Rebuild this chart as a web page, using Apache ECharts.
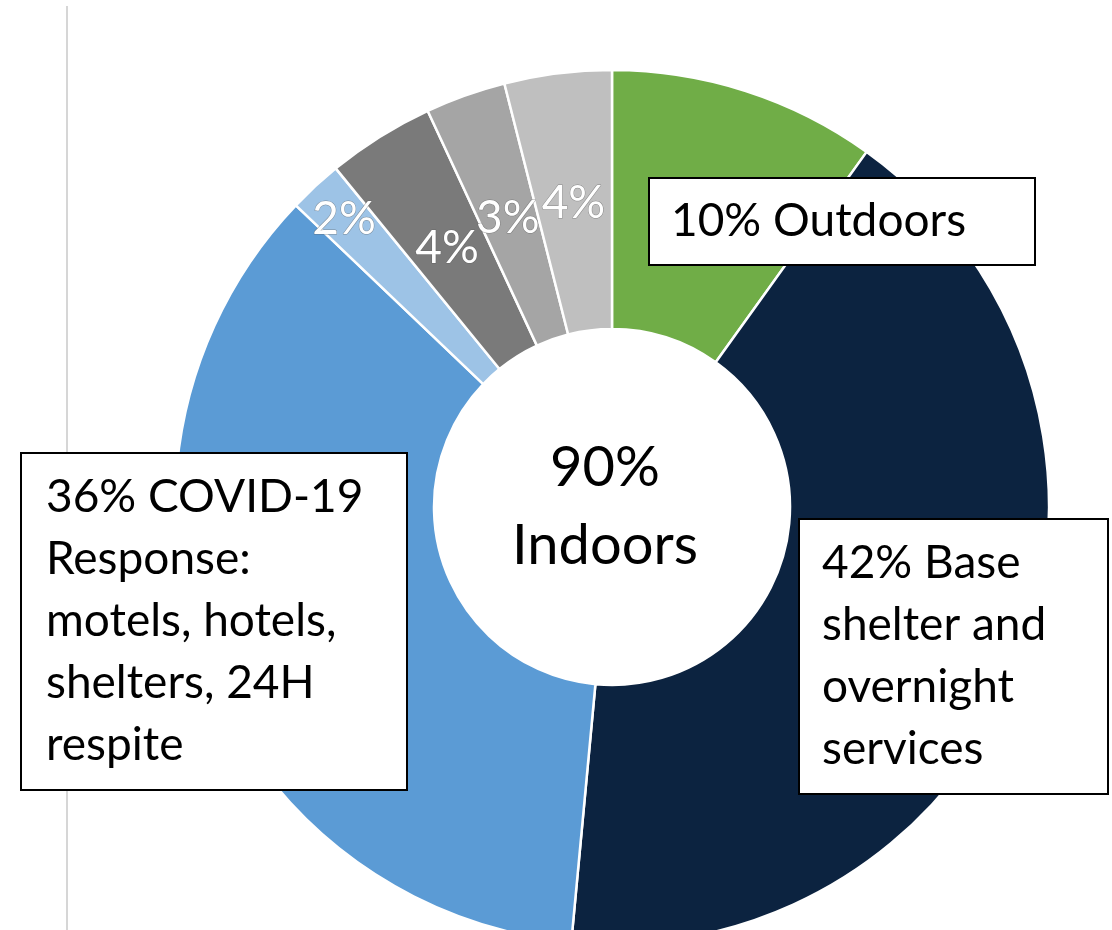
<!DOCTYPE html>
<html>
<head>
<meta charset="utf-8">
<script src="https://cdn.jsdelivr.net/npm/echarts@6/dist/echarts.min.js"></script>
<style>
  html, body { margin: 0; padding: 0; background: #ffffff; }
  #chart { width: 1112px; height: 930px; }
</style>
</head>
<body>
<div id="chart"></div>
<script>
// ---- data ----
const categories = ['Outdoors', 'Base shelter and overnight services', 'COVID-19 Response', 'Indoor other A', 'Indoor other B', 'Indoor other C', 'Indoor other D'];
const values = [10, 42, 36, 2, 4, 3, 4];
const boxTexts = ['Outdoors', 'Base\nshelter and\novernight\nservices', 'COVID-19\nResponse:\nmotels, hotels,\nshelters, 24H\nrespite'];
const centerLines = ['Indoors'];

// ---- styles ----
const colors = ['#70AD47', '#0C2340', '#5B9BD5', '#9DC3E6', '#7A7A7A', '#A5A5A5', '#BFBFBF'];
const boxGeom = [
  { x: 650, y: 179, w: 384, h: 85, pl: 21 },
  { x: 800, y: 520, w: 307, h: 273, pl: 22 },
  { x: 22, y: 454, w: 384, h: 335, pl: 24 }
];
const LH = 62;

const data = values.map(function (v, i) {
  const item = { value: v, name: categories[i], itemStyle: { color: colors[i] } };
  if (i < 3) {
    const g = boxGeom[i];
    const nLines = boxTexts[i].split('\n').length;
    const pv = (g.h - nLines * LH) / 2;
    item.label = {
      formatter: function (p) { return p.value + '% ' + boxTexts[p.dataIndex]; },
      color: '#000000',
      fontFamily: 'Lato',
      fontSize: 46,
      lineHeight: LH,
      backgroundColor: '#ffffff',
      borderColor: '#000000',
      borderWidth: 2,
      padding: [pv, 8, pv, g.pl],
      width: g.w - g.pl - 8,
      textBorderWidth: 0
    };
  }
  return item;
});

const chart = echarts.init(document.getElementById('chart'), null, { renderer: 'canvas' });
chart.setOption({
  animation: false,
  backgroundColor: '#ffffff',
  graphic: [
    {
      type: 'line',
      z: 0,
      shape: { x1: 67, y1: 6, x2: 67, y2: 930 },
      style: { stroke: '#c9c9c9', lineWidth: 1.5 }
    },
    {
      type: 'text',
      z: 10,
      x: 605,
      y: 507,
      style: {
        text: (100 - values[0]) + '%\n' + centerLines[0],
        align: 'center',
        verticalAlign: 'middle',
        fontFamily: 'Lato',
        fontSize: 56,
        lineHeight: 78,
        fill: '#000000'
      }
    }
  ],
  series: [
    {
      type: 'pie',
      center: [612, 507],
      radius: [178, 437],
      startAngle: 90,
      clockwise: true,
      avoidLabelOverlap: false,
      emphasis: { disabled: true },
      itemStyle: { borderColor: '#ffffff', borderWidth: 2.5 },
      labelLine: { show: false },
      label: {
        show: true,
        position: 'inside',
        formatter: '{c}%',
        color: '#ffffff',
        fontFamily: 'Lato',
        fontSize: 46,
        textBorderColor: 'rgba(90,90,90,0.55)',
        textBorderWidth: 1
      },
      labelLayout: function (params) {
        const i = params.dataIndex;
        if (i < 3) {
          return { x: boxGeom[i].x, y: boxGeom[i].y, align: 'left', verticalAlign: 'top' };
        }
        if (i === 3) {
          return { dx: -57, dy: -60 };
        }
        return { dy: 4 };
      },
      data: data
    }
  ]
});
</script>
</body>
</html>
